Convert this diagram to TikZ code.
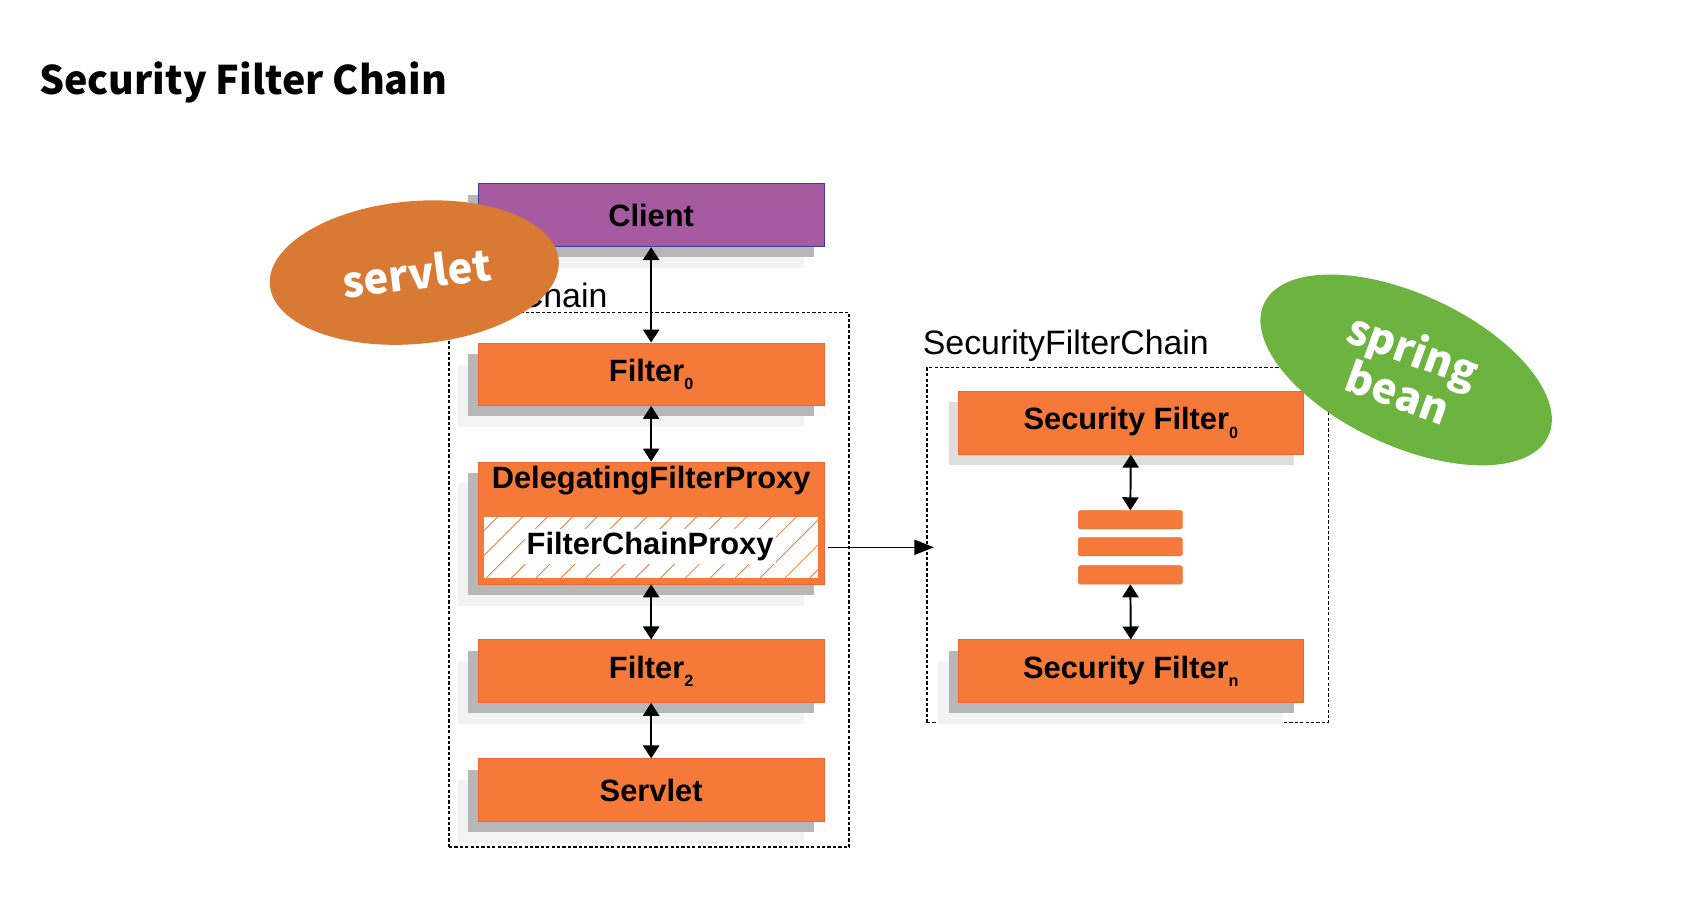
\documentclass[tikz,border=0pt]{standalone}
\usepackage{fontspec}
\setmainfont{Liberation Sans}
\newfontfamily\notofont{Noto Sans CJK KR}
\usetikzlibrary{shapes.geometric,arrows.meta,shadows}
\definecolor{boxorange}{RGB}{245,122,58}
\definecolor{boxedge}{RGB}{236,104,48}
\definecolor{clientpurple}{RGB}{166,90,160}
\definecolor{clientedge}{RGB}{60,60,155}
\definecolor{servletorange}{RGB}{216,122,51}
\definecolor{springgreen}{RGB}{109,179,63}
\definecolor{shadowdark}{RGB}{183,183,183}
\definecolor{shadowlight}{RGB}{243,243,243}
\definecolor{shadowmid}{RGB}{222,222,222}
\newcommand{\subsc}[1]{\raisebox{-8pt}{\fontsize{15}{15}\selectfont #1}}
\begin{document}
\begin{tikzpicture}[x=1pt,y=-1pt,
  boxtext/.style={font=\fontsize{28.5}{30}\selectfont\bfseries},
  twoshadow/.style={general shadow={shadow xshift=-19pt,shadow yshift=-20pt,fill=shadowlight},
                    general shadow={shadow xshift=-9pt,shadow yshift=-10pt,fill=shadowdark}},
  fbox/.style={boxtext,draw=boxedge,fill=boxorange,line width=0.6pt,minimum width=320pt,minimum height=58pt,inner sep=0pt,twoshadow},
  bar/.style={draw=boxedge,fill=boxorange,line width=0.5pt,rounded corners=1.5pt,minimum width=96pt,minimum height=17pt,inner sep=0pt},
  chainbox/.style={draw=black,dash pattern=on 3pt off 2pt,line width=1.2pt,inner sep=0pt},
  chainlabel/.style={font=\fontsize{31.3}{32}\selectfont,anchor=base west,inner sep=0pt},
  dbl/.style={{Triangle[length=12pt,width=15pt]}-{Triangle[length=12pt,width=15pt]},line width=1.8pt},
  oneway/.style={-{Triangle[length=18pt,width=14pt]},line width=1.2pt},
  hatch/.style={draw=boxorange,line width=0.8pt},
  bubbletext/.style={text=white,font=\fontsize{39}{42}\selectfont\notofont\bfseries,align=center,inner sep=0pt}
]
\useasboundingbox (0,0) rectangle (1568,843);

% title
\node[anchor=base west,inner sep=0pt,font=\fontsize{36.4}{38}\selectfont\notofont\bfseries] (title) at (36,87) {Security Filter Chain};

% left chain
\node[chainbox,minimum width=370pt,minimum height=494pt] (fc) at (600,536) {};
\node[chainlabel] (fclabel) at (410,284) {FilterChain};

\node[boxtext,draw=clientedge,fill=clientpurple,line width=1pt,minimum width=320pt,minimum height=58pt,inner sep=0pt,twoshadow] (client) at (602,199) {Client};
\node[fbox] (f0) at (602,346) {Filter\subsc{0}};
\node[draw=boxedge,fill=boxorange,line width=0.6pt,minimum width=320pt,minimum height=113pt,inner sep=0pt,twoshadow] (dfp) at (602,483.5) {};
\node[boxtext,inner sep=0pt] (dfptitle) at (602,444) {DelegatingFilterProxy};
\node[draw=boxorange,fill=white,line width=0.8pt,minimum width=310pt,minimum height=58pt,inner sep=0pt] (fcp) at (602,506) {};
\begin{scope}
  \clip (fcp.south west) rectangle (fcp.north east);
  \foreach \x in {380,403,...,780} \draw[hatch] (\x,535) -- (\x+58,477);
\end{scope}
\node[boxtext,fill=white,inner xsep=2pt,inner ysep=3pt] (fcptext) at (601,505) {FilterChainProxy};
\node[fbox] (f2) at (602,620.5) {Filter\subsc{2}};
\node[fbox] (servlet) at (602,730.5) {Servlet};

\draw[dbl] (client.south) -- (f0.north);
\draw[dbl] (f0.south) -- (dfp.north);
\draw[dbl] (dfp.south) -- (f2.north);
\draw[dbl] (f2.south) -- (servlet.north);

% right chain
\node[chainbox,minimum width=371pt,minimum height=328pt] (sfc) at (1042.5,504) {};
\node[chainlabel] (sfclabel) at (853,328) {SecurityFilterChain};
\node[boxtext,draw=boxedge,fill=boxorange,line width=0.6pt,minimum width=319pt,minimum height=58pt,inner sep=0pt,
      general shadow={shadow xshift=-9pt,shadow yshift=-10pt,fill=shadowmid}] (sf0) at (1045.5,391) {Security Filter\subsc{0}};
\node[bar] (bar1) at (1045,480.5) {};
\node[bar] (bar2) at (1045,505.5) {};
\node[bar] (bar3) at (1045,531.5) {};
\node[fbox,minimum width=319pt] (sfn) at (1045.5,620.5) {Security Filter\subsc{n}};

\draw[dbl] (sf0.south) -- (bar1.north);
\draw[dbl] (bar3.south) -- (sfn.north);

\draw[oneway,shorten >=-7pt] ([xshift=3pt]dfp.east |- fcp.center) -- (sfc.west |- fcp.center);

% bubbles
\node[ellipse,fill=servletorange,minimum width=268pt,minimum height=132pt,rotate=5,inner sep=0pt] (servletbubble) at (383,252) {};
\node[bubbletext,rotate=7] (servlettext) at (385,252) {servlet};
\node[ellipse,fill=springgreen,minimum width=290pt,minimum height=140pt,rotate=-25,inner sep=0pt] (springbubble) at (1300,342) {};
\node[bubbletext,rotate=-20] (springtext) at (1300,342) {spring\\bean};
\end{tikzpicture}
\end{document}
